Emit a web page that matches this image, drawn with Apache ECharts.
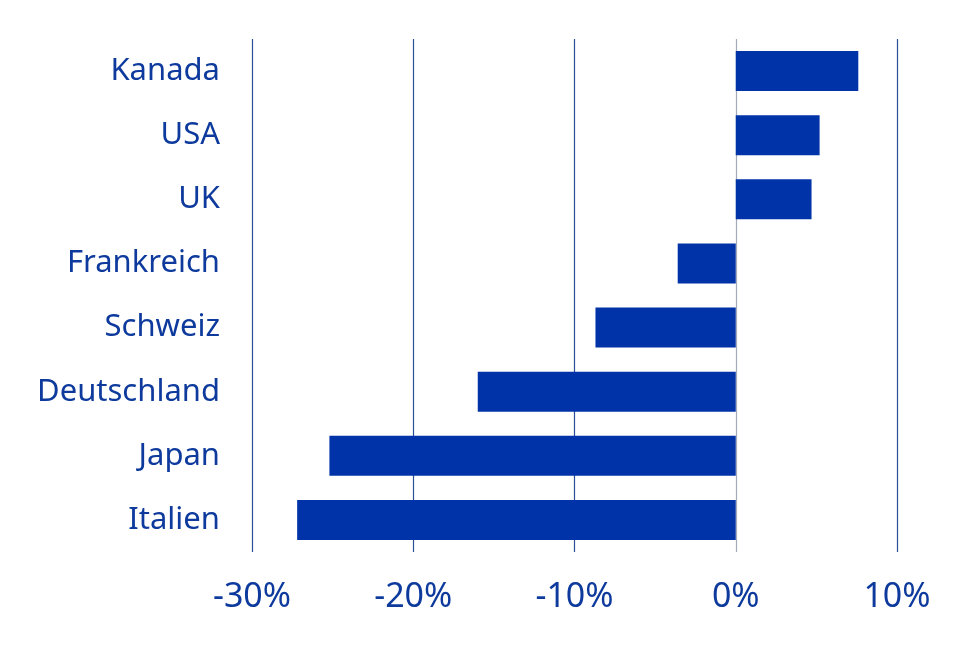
<!DOCTYPE html>
<html><head><meta charset="utf-8">
<script src="https://cdn.jsdelivr.net/npm/echarts@6/dist/echarts.min.js"></script>
<style>html,body{margin:0;padding:0;background:#fff}#c{width:960px;height:652px}</style>
</head><body><div id="c"></div>
<script>
const categories = ['Italien','Japan','Deutschland','Schweiz','Frankreich','UK','USA','Kanada'];
const values = [-27.2, -25.2, -16.0, -8.7, -3.6, 4.7, 5.2, 7.6];
const tickValues = [-30, -20, -10, 0, 10];

const textColor = '#0d3a9c';
const chart = echarts.init(document.getElementById('c'));
chart.setOption({
  animation: false,
  grid: {left: 252, right: 63, top: 39, bottom: 100, containLabel: false},
  xAxis: {
    type: 'value', min: tickValues[0], max: tickValues[tickValues.length-1], interval: 10,
    axisLine: {show: false}, axisTick: {show: false},
    axisLabel: {formatter: v => v + '%', color: textColor, fontSize: 34, fontFamily: 'Noto Sans', margin: 28},
    splitLine: {show: true, lineStyle: {width: 1.2, color: ['#2b4f96','#2b4f96','#2b4f96','#a3aab8','#2b4f96']}}
  },
  yAxis: {
    type: 'category', data: categories,
    axisLine: {show: false}, axisTick: {show: false},
    axisLabel: {color: textColor, fontSize: 31, fontFamily: 'Noto Sans', margin: 32}
  },
  series: [{
    type: 'bar', data: values, barWidth: 40,
    itemStyle: {color: '#0033a8'}
  }]
});
</script></body></html>
